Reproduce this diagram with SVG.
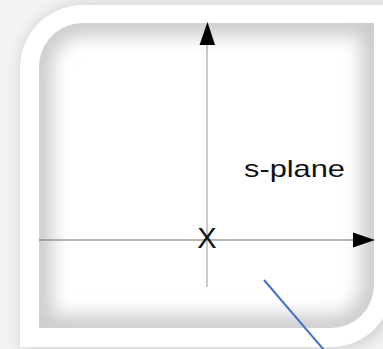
<svg xmlns="http://www.w3.org/2000/svg" width="383" height="349" viewBox="0 0 383 349">
  <style>
    .lbl { font-family: "Liberation Sans", Arial, sans-serif; fill: #111111; }
    .axis-h { stroke: #6e6e6e; stroke-width: 1; fill: none; }
    .axis-v { stroke: #a8a8a8; stroke-width: 1.2; fill: none; }
    .head { fill: #000000; }
  </style>
  <defs>
    <filter id="soft" x="-20%" y="-20%" width="140%" height="140%">
      <feGaussianBlur stdDeviation="7"/>
    </filter>
    <filter id="vig" x="-20%" y="-20%" width="140%" height="140%">
      <feGaussianBlur stdDeviation="9"/>
    </filter>
    <clipPath id="innerClip">
      <path d="M39,67 A44,44 0 0 1 83,23 L374,23 L374,285 A43,43 0 0 1 331,328 L39,328 Z"/>
    </clipPath>
  </defs>

  <g id="background">
    <rect x="0" y="0" width="383" height="349" fill="#f3f3f3"/>
    <path d="M20,67 A63,63 0 0 1 83,4 L400,4 L400,285 A62,62 0 0 1 331,349 L20,349 Z" fill="#d2d2d2" filter="url(#soft)"/>
  </g>

  <g id="frame">
    <path d="M20,67 A63,63 0 0 1 83,5 L393,5 L393,285 A62,62 0 0 1 331,347 L20,347 Z" fill="#ffffff"/>
  </g>

  <g id="plane">
    <path d="M39,67 A44,44 0 0 1 83,23 L374,23 L374,285 A43,43 0 0 1 331,328 L39,328 Z" fill="#ffffff"/>
    <g clip-path="url(#innerClip)">
      <path d="M39,67 A44,44 0 0 1 83,23 L374,23 L374,285 A43,43 0 0 1 331,328 L39,328 Z" fill="none" stroke="#cbcbcb" stroke-width="26" filter="url(#vig)"/>
    </g>
  </g>

  <g id="axes">
    <line class="axis-h" x1="39" y1="240" x2="354" y2="240"/>
    <polygon class="head" points="353,232.5 375,240 353,247.5"/>
    <line class="axis-v" x1="207" y1="287" x2="207" y2="44"/>
    <polygon class="head" points="199.5,45 207.5,22 215,45"/>
  </g>

  <g id="pole">
    <text class="lbl" x="207" y="248" font-size="29" text-anchor="middle">X</text>
  </g>

  <g id="label">
    <text class="lbl" x="244" y="177" font-size="24" textLength="101" lengthAdjust="spacingAndGlyphs">s-plane</text>
  </g>

  <g id="connectors">
    <line x1="264" y1="280" x2="324" y2="350" stroke="#4472c4" stroke-width="2"/>
  </g>
</svg>
